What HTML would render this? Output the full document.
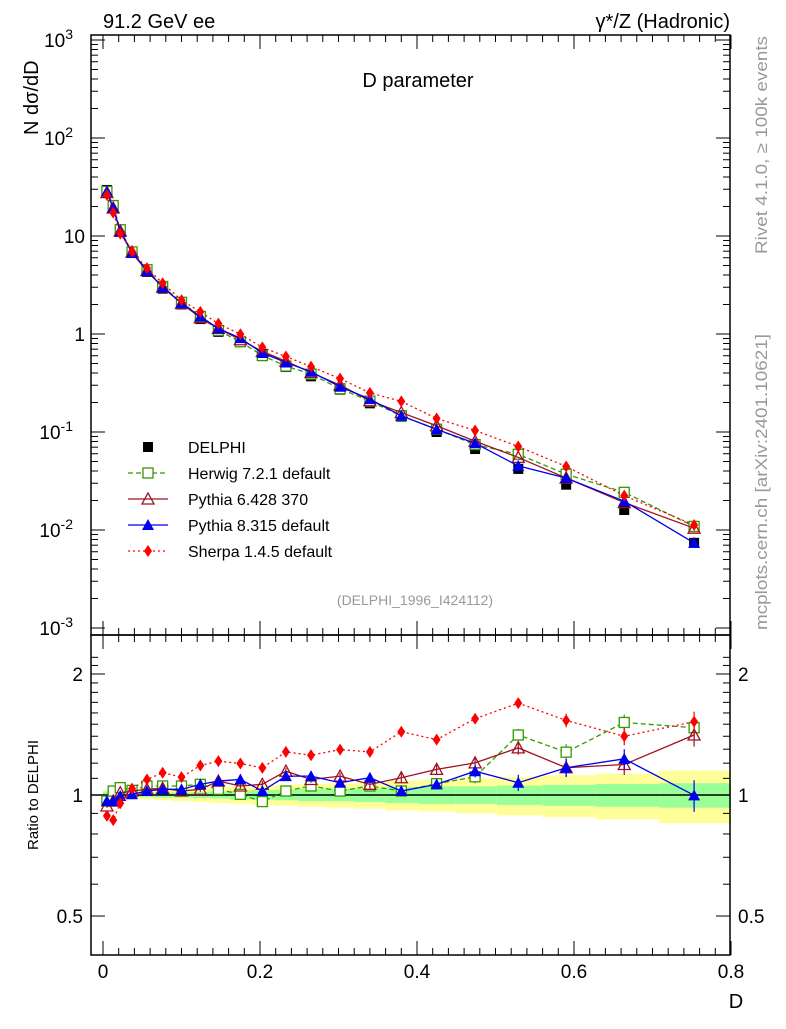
<!DOCTYPE html>
<html><head><meta charset="utf-8"><style>
body{margin:0;background:#fff;font-family:"Liberation Sans",sans-serif}
svg text{font-family:"Liberation Sans",sans-serif}
</style></head><body>
<svg id="c" width="786" height="1024" xmlns="http://www.w3.org/2000/svg">
<text x="103" y="28" font-size="20">91.2 GeV ee</text>
<text x="730" y="28" font-size="20" text-anchor="end">γ*/Z (Hadronic)</text>
<text x="418" y="87" font-size="20" text-anchor="middle">D parameter</text>
<text transform="translate(38,135) rotate(-90)" font-size="20" text-anchor="start">N  dσ/dD</text>
<text transform="translate(38,795) rotate(-90)" font-size="15" text-anchor="middle">Ratio to DELPHI</text>
<text x="736" y="1008" font-size="20" text-anchor="middle">D</text>
<text transform="translate(767,254) rotate(-90)" font-size="16.5" fill="#999" textLength="218" lengthAdjust="spacingAndGlyphs">Rivet 4.1.0, ≥ 100k events</text>
<text transform="translate(767,630) rotate(-90)" font-size="16.5" fill="#999" textLength="296" lengthAdjust="spacingAndGlyphs">mcplots.cern.ch [arXiv:2401.10621]</text>
<text x="415" y="605" font-size="14" fill="#999" text-anchor="middle">(DELPHI_1996_I424112)</text>
<g id="g"></g>
</svg>
<script>
const D=[0.005,0.013,0.022,0.037,0.056,0.076,0.10,0.124,0.147,0.175,0.203,0.233,0.265,0.302,0.340,0.380,0.425,0.474,0.529,0.590,0.664,0.753];
const delphi=[29.5,20,11.1,6.7,4.3,2.9,2.0,1.42,1.05,0.83,0.625,0.46,0.37,0.27,0.196,0.143,0.10,0.067,0.042,0.029,0.016,0.0074];
const herwigR=[0.966,1.023,1.043,1.027,1.053,1.053,1.053,1.063,1.033,1.004,0.963,1.023,1.053,1.023,1.053,1.023,1.067,1.110,1.410,1.278,1.515,1.470];
const py6R=[0.939,0.966,1.013,1.023,1.033,1.039,1.023,1.033,1.083,1.053,1.063,1.146,1.093,1.114,1.063,1.104,1.158,1.202,1.310,1.169,1.191,1.410];
const py8R=[0.966,0.966,0.994,1.004,1.023,1.033,1.033,1.063,1.083,1.093,1.023,1.114,1.114,1.073,1.104,1.023,1.063,1.146,1.073,1.169,1.230,0.998];
const sherpaR=[0.887,0.866,0.954,1.037,1.093,1.136,1.108,1.184,1.214,1.198,1.168,1.280,1.256,1.297,1.280,1.437,1.373,1.548,1.692,1.533,1.400,1.522];
const mcErr=[0.01,0.01,0.01,0.01,0.01,0.01,0.01,0.015,0.015,0.015,0.02,0.02,0.02,0.02,0.025,0.03,0.03,0.04,0.05,0.06,0.07,0.09];
const greenW=[0.02,0.015,0.012,0.012,0.012,0.015,0.015,0.018,0.02,0.025,0.028,0.03,0.035,0.035,0.04,0.045,0.05,0.05,0.055,0.06,0.065,0.07];
const yellowW=[0.03,0.025,0.022,0.022,0.025,0.03,0.035,0.04,0.045,0.05,0.055,0.06,0.065,0.07,0.075,0.085,0.09,0.1,0.11,0.12,0.13,0.15];
const yTickVals=[-3,-2,-1,0,1,2,3];
const xTicks=[0,0.2,0.4,0.6,0.8];
const rTicks=[0.5,1,2];

const L=91,R=730,T=35,MB=635,RB=955;
const X=v=>103+v*785;
const Y=v=>334-98*Math.log10(v);
const YR=r=>795-174.6*Math.log(r);
const g=document.getElementById('g');
const NS='http://www.w3.org/2000/svg';
function mk(t,a,name){const e=document.createElementNS(NS,t);for(const k in a)e.setAttribute(k,a[k]);g.appendChild(e);return e;}

const edges=[0];for(let i=0;i<D.length-1;i++)edges.push((D[i]+D[i+1])/2);edges.push(0.8);
for(let i=0;i<D.length;i++){
 let e=mk('rect',{x:X(edges[i]),y:YR(1+yellowW[i]),width:X(edges[i+1])-X(edges[i]),height:YR(1-yellowW[i])-YR(1+yellowW[i]),fill:'#ffff99'});
 
 
 let f=mk('rect',{x:X(edges[i]),y:YR(1+greenW[i]),width:X(edges[i+1])-X(edges[i]),height:YR(1-greenW[i])-YR(1+greenW[i]),fill:'#99ff99'});
 
 
}
let ln=mk('line',{x1:L,x2:R,y1:YR(1),y2:YR(1),stroke:'#000','stroke-width':1.5});



for(const [y0,y1,n] of [[T,MB,'main-frame'],[MB,RB,'ratio-frame']]){
 let f=mk('rect',{x:L,y:y0,width:R-L,height:y1-y0,fill:'none',stroke:'#000','stroke-width':1.5});
 
 
}
for(const p of yTickVals){
 const y=Y(Math.pow(10,p));
 mk('line',{x1:L,x2:L+14,y1:y,y2:y,stroke:'#000'});mk('line',{x1:R,x2:R-14,y1:y,y2:y,stroke:'#000'});
 let lbl=p===0?'1':'10';
 let t=mk('text',{x:L-6,y:y+7,'font-size':19,'text-anchor':'end'});
 
 
 if(p===0||p===1)t.textContent=lbl;
 else{t.textContent='10';const s=document.createElementNS(NS,'tspan');s.setAttribute('dy','-8');s.setAttribute('font-size','14');s.textContent=String(p);t.appendChild(s);t.setAttribute('x',L-18);}
 if(p<3)for(let m=2;m<10;m++){const ym=Y(m*Math.pow(10,p));mk('line',{x1:L,x2:L+7,y1:ym,y2:ym,stroke:'#000'});mk('line',{x1:R,x2:R-7,y1:ym,y2:ym,stroke:'#000'});}
}
for(let v=0;v<=0.8001;v+=0.02){
 const big=Math.abs(v*10-Math.round(v*10))<1e-6&&Math.round(v*10)%2===0;
 const x=X(v);const l=big?14:7;
 mk('line',{x1:x,x2:x,y1:MB,y2:MB-l,stroke:'#000'});mk('line',{x1:x,x2:x,y1:T,y2:T+l,stroke:'#000'});
 mk('line',{x1:x,x2:x,y1:RB,y2:RB-l,stroke:'#000'});mk('line',{x1:x,x2:x,y1:MB,y2:MB+l,stroke:'#000'});
}
for(const v of xTicks){let t=mk('text',{x:X(v),y:978,'font-size':19,'text-anchor':'middle'});t.textContent=v===0?'0':String(v);
 
 }
for(let r=0.5;r<=2.3;r+=0.1){const y=YR(r);if(y<MB)continue;const big=rTicks.some(q=>Math.abs(q-r)<1e-6);const l=big?14:7;
 mk('line',{x1:L,x2:L+l,y1:y,y2:y,stroke:'#000'});mk('line',{x1:R,x2:R-l,y1:y,y2:y,stroke:'#000'});}
for(const r of rTicks){for(const [x,a] of [[L-8,'end'],[R+8,'start']]){let t=mk('text',{x:x,y:YR(r)+7,'font-size':19,'text-anchor':a});t.textContent=String(r);
 
 }}

function marker(kind,x,y,col,name){
 let e;
 if(kind==='sq')e=mk('rect',{x:x-5,y:y-5,width:10,height:10,fill:'#000'});
 else if(kind==='osq')e=mk('rect',{x:x-5,y:y-5,width:10,height:10,fill:'#fff',stroke:col,'stroke-width':1.3});
 else if(kind==='otri')e=mk('polygon',{points:`${x},${y-6} ${x-6},${y+5} ${x+6},${y+5}`,fill:'none',stroke:col,'stroke-width':1.3});
 else if(kind==='tri')e=mk('polygon',{points:`${x},${y-6} ${x-6},${y+5} ${x+6},${y+5}`,fill:col});
 else e=mk('polygon',{points:`${x},${y-6} ${x-4},${y} ${x},${y+6} ${x+4},${y}`,fill:col});
 
 
}
const series=[
 {r:herwigR,col:'#339900',dash:'5,3',kind:'osq',name:'herwig'},
 {r:py6R,col:'#a01020',dash:'',kind:'otri',name:'pythia6'},
 {r:py8R,col:'#0000ee',dash:'',kind:'tri',name:'pythia8'},
 {r:sherpaR,col:'#ff0000',dash:'2,3',kind:'dia',name:'sherpa'}];
for(let i=0;i<D.length;i++)marker('sq',X(D[i]),Y(delphi[i]),'#000','delphi-point');
for(const s of series){
 const pm=D.map((d,i)=>X(d)+','+Y(delphi[i]*s.r[i])).join(' ');
 let p=mk('polyline',{points:pm,fill:'none',stroke:s.col,'stroke-width':1.3,'stroke-dasharray':s.dash});
 
 
 const pr=D.map((d,i)=>X(d)+','+YR(s.r[i])).join(' ');
 let q=mk('polyline',{points:pr,fill:'none',stroke:s.col,'stroke-width':1.3,'stroke-dasharray':s.dash});
 
 
 for(let i=0;i<D.length;i++){
  const x=X(D[i]);
  mk('line',{x1:x,x2:x,y1:YR(s.r[i]+mcErr[i]),y2:YR(s.r[i]-mcErr[i]),stroke:s.col,'stroke-width':1.2});
  marker(s.kind,x,Y(delphi[i]*s.r[i]),s.col,s.name+'-point');
  marker(s.kind,x,YR(s.r[i]),s.col,s.name+'-ratio-point');
 }
}
const leg=[['DELPHI','sq','#000',''],['Herwig 7.2.1 default','osq','#339900','5,3'],['Pythia 6.428 370','otri','#a01020',''],['Pythia 8.315 default','tri','#0000ee',''],['Sherpa 1.4.5 default','dia','#ff0000','2,3']];
leg.forEach((l,i)=>{const y=447+i*26;
 if(i>0){let a=mk('line',{x1:128,x2:168,y1:y,y2:y,stroke:l[2],'stroke-width':1.3,'stroke-dasharray':l[3]});
  
  }
 marker(l[1],148,y,l[2],'legend-marker');
 let t=mk('text',{x:188,y:y+6,'font-size':16});t.textContent=l[0];
 
 
});
</script>
</body></html>
